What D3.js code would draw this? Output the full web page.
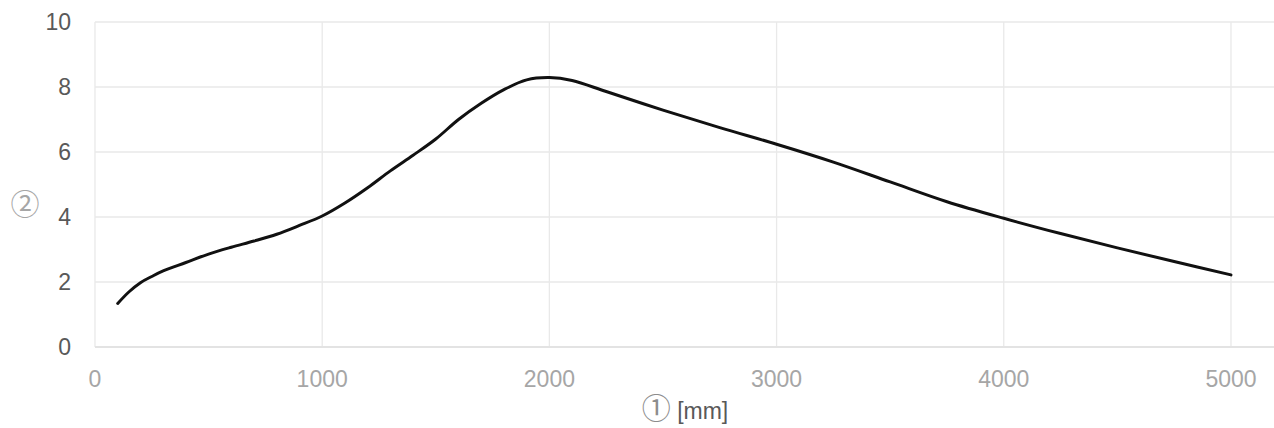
<!DOCTYPE html>
<html>
<head>
<meta charset="utf-8">
<script src="https://cdn.jsdelivr.net/npm/d3@7"></script>
<style>
  body { margin: 0; background: #fff; }
  text { font-family: "Liberation Sans", Arial, sans-serif; }
  .circ { font-family: "Noto Sans CJK JP", "DejaVu Sans", sans-serif; }
</style>
</head>
<body>
<div id="chart"></div>
<script>
// distance [mm] and value
var distance = [100, 150, 200, 250, 300, 400, 500, 600, 700, 800, 900, 1000, 1100, 1200, 1300, 1400, 1500,
  1600, 1700, 1800, 1900, 2000, 2100, 2250, 2500, 2750, 3000, 3250, 3500, 3750,
  4000, 4250, 4500, 4750, 5000];
var value = [1.34, 1.7, 1.98, 2.17, 2.34, 2.6, 2.86, 3.07, 3.26, 3.47, 3.74, 4.03, 4.43, 4.9, 5.42, 5.9, 6.4,
  7.0, 7.5, 7.92, 8.22, 8.29, 8.2, 7.86, 7.29, 6.75, 6.24, 5.69, 5.08, 4.47,
  3.96, 3.49, 3.05, 2.63, 2.22];
var xTicks = [0, 1000, 2000, 3000, 4000, 5000];
var yTicks = [0, 2, 4, 6, 8, 10];

var width = 1274, height = 428;
var plotLeft = 95, plotRight = 1273, plotTop = 22, plotBottom = 347;

var svg = d3.select("#chart")
    .append("svg")
    .attr("width", width)
    .attr("height", height)

var x = d3.scaleLinear().domain([0, 5185]).range([plotLeft, plotRight]);
var y = d3.scaleLinear().domain([0, 10]).range([plotBottom, plotTop]);

// horizontal grid
svg.append("g")
    .selectAll("line")
    .data(yTicks)
    .join("line")
      .attr("x1", plotLeft)
      .attr("x2", width)
      .attr("y1", d => y(d))
      .attr("y2", d => y(d))
      .style("stroke", "#e9e9e9")
      .style("stroke-width", 1.3)

// vertical grid (incl. left border)
svg.append("g")
    .selectAll("line")
    .data(xTicks)
    .join("line")
      .attr("x1", d => x(d))
      .attr("x2", d => x(d))
      .attr("y1", plotTop)
      .attr("y2", plotBottom)
      .style("stroke", "#e9e9e9")
      .style("stroke-width", 1.3)

// bottom axis line
svg.append("line")
    .attr("x1", plotLeft).attr("x2", width)
    .attr("y1", y(0)).attr("y2", y(0))
    .style("stroke", "#e3e3e3")
    .style("stroke-width", 2)

svg.append("g")
    .selectAll("text")
    .data(yTicks)
    .join("text")
      .text(d => d)
      .attr("x", 71)
      .attr("y", d => y(d))
      .attr("dy", "0.36em")
      .attr("text-anchor", "end")
      .attr("font-size", 23)
      .attr("fill", "#595959")

svg.append("g")
    .selectAll("text")
    .data(xTicks)
    .join("text")
      .text(d => d)
      .attr("x", d => x(d))
      .attr("y", 387)
      .attr("text-anchor", "middle")
      .attr("font-size", 23)
      .attr("fill", "#a6a6a6")

// axis titles
svg.append("text")
    .attr("class", "circ")
    .attr("x", 25)
    .attr("y", 215)
    .attr("text-anchor", "middle")
    .attr("font-size", 29)
    .attr("fill", "#a6a6a6")
    .text("②")

var xt = svg.append("text")
    .attr("x", 685)
    .attr("y", 419)
    .attr("text-anchor", "middle")
    .attr("font-size", 23)
xt.append("tspan").attr("class", "circ").attr("font-size", 29).attr("fill", "#8c8c8c").text("①")
xt.append("tspan").attr("fill", "#595959").text(" [mm]")

var line = d3.line()
    .x((d, i) => x(distance[i]))
    .y(d => y(d))
    .curve(d3.curveCatmullRom.alpha(0.5))

svg.append("path")
    .datum(value)
    .attr("d", line)
    .attr("fill", "none")
    .style("stroke", "#111")
    .style("stroke-width", 3)
    .style("stroke-linecap", "round")
    .style("stroke-linejoin", "round")
</script>
</body>
</html>
